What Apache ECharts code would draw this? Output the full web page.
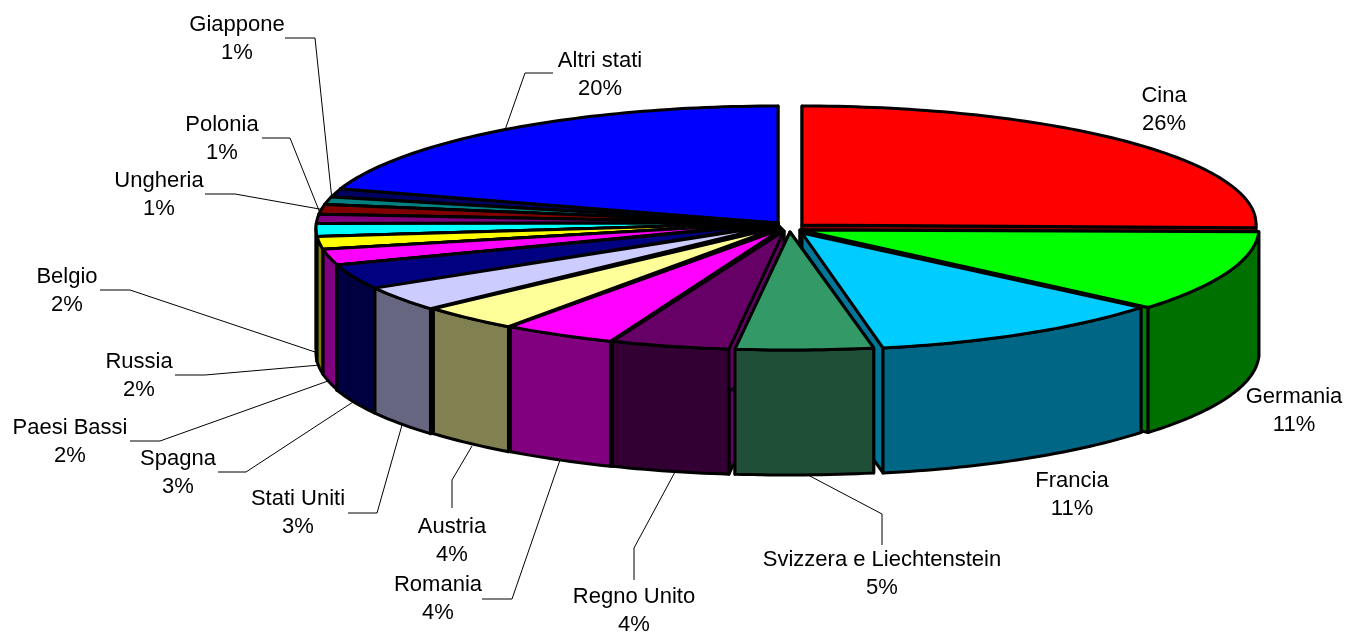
<!DOCTYPE html>
<html>
<head>
<meta charset="utf-8">
<title>Torta 3D</title>
<style>
    html, body { margin: 0; padding: 0; background: #fff; }
    #main { width: 1345px; height: 632px; }
</style>
<script src="https://cdn.jsdelivr.net/npm/echarts@6/dist/echarts.min.js"></script>
</head>
<body>
<div id="main"></div>
<script>
// data (slice sizes in percent, the printed label is rounded)
const categories = ['Cina', 'Germania', 'Francia', 'Svizzera e Liechtenstein', 'Regno Unito', 'Romania', 'Austria', 'Stati Uniti', 'Spagna', 'Paesi Bassi', 'Belgio', 'Russia', 'Ungheria', 'Polonia', 'Giappone', 'Altri stati'];
const values = [25.5, 10.8, 10.8, 4.8, 4.15, 3.95, 3.5, 3.3, 3.3, 2.1, 1.7, 1.7, 1.2, 1.3, 1.0, 19.8];
const percentLabels = ['26%', '11%', '11%', '5%', '4%', '4%', '4%', '3%', '3%', '2%', '2%', '2%', '1%', '1%', '1%', '20%'];

// colours
const topColors = ['#ff0000', '#00ff00', '#00ccff', '#339966', '#660066', '#ff00ff', '#ffff99', '#ccccff', '#000080', '#ff00ff', '#ffff00', '#00ffff', '#800080', '#800000', '#008080', '#0000ff'];
const wallColors = ['#800000', '#007000', '#006685', '#1f4f36', '#330033', '#800080', '#808050', '#666680', '#000040', '#800080', '#808000', '#008080', '#400040', '#400000', '#004040', '#000080'];
const cutColors = ['#800000', '#008000', '#007799', '#1f4f36', '#660066', '#800080', '#808050', '#333340', '#000040', '#800080', '#808000', '#008080', '#400040', '#400000', '#004040', '#000060'];

// pie geometry
const cx = 778, depth = 125;
const sliceShiftX = [24, 22, 24, 12, 6, 4, 2, -1, -1, 0, 0, 0, 0, 0, 0, 0];
const sliceRx = [454, 459, 447, 462, 462, 462, 462, 462, 462, 462, 462, 462, 462, 462, 462, 462];
const sliceEy = [224, 228, 228, 228, 228, 228, 228, 228, 228, 228, 228, 228, 228, 228, 228, 228];
const sliceRy = [118, 122, 122, 122, 122, 122, 122, 122, 122, 122, 122, 122, 122, 122, 122, 122];
const tipY = [225, 230, 233, 232, 231, 229, 227, 225, 224, 223, 223, 223, 223, 223, 223, 223];

// label centres and leader lines
const labelPos = [[1164, 110], [1294, 411], [1072, 495], [882, 574], [634, 611], [438, 599], [452, 541], [298, 513], [178, 473], [70, 442], [67, 291], [139, 376], [159, 195], [222, 139], [237, 39], [600, 75]];
const leaders = [null, null, null,
    [[882, 545], [882, 514], [808, 475]],
    [[634, 580], [634, 548], [675, 472]],
    [[482, 599], [512, 599], [560, 460]],
    [[452, 508], [452, 480], [472, 446]],
    [[348, 513], [377, 513], [402, 425]],
    [[218, 472], [246, 472], [353, 402]],
    [[130, 441], [160, 441], [328, 381]],
    [[100, 290], [130, 290], [318, 353]],
    [[175, 375], [205, 375], [320, 365]],
    [[205, 194], [235, 194], [325, 210]],
    [[262, 138], [290, 138], [322, 218]],
    [[285, 38], [315, 38], [332, 200]],
    [[553, 73], [525, 73], [505, 130]]];

const lastIndex = values.length - 1;
const toAngle = p => p / 100 * 2 * Math.PI;
const startAngles = [];
values.reduce((sum, v, i) => { startAngles[i] = toAngle(sum); return sum + v; }, 0);
// the last slice closes the circle, what is left before it shows as a dark wedge
const wedgeStart = startAngles[lastIndex];
startAngles[lastIndex] = toAngle(100 - values[lastIndex]);

function rimPoint(i, a, dy) {
    return [cx + sliceShiftX[i] + sliceRx[i] * Math.sin(a), sliceEy[i] - sliceRy[i] * Math.cos(a) + (dy || 0)];
}

function renderSlice(params, api) {
    const i = params.dataIndex;
    const a0 = startAngles[i];
    const a1 = a0 + toAngle(api.value(0));
    const tip = [cx + sliceShiftX[i], tipY[i]];
    const mid = (a0 + a1) / 2;
    // back slices are painted first
    const base = Math.round((1 - Math.cos(mid)) * 1000);
    const line = { stroke: '#000', lineWidth: 3, lineJoin: 'round' };
    const children = [];

    function cutFace(a) {
        const p = rimPoint(i, a), q = rimPoint(i, a, depth);
        children.push({
            type: 'polygon', z2: base,
            shape: { points: [tip, p, q, [tip[0], tip[1] + depth]] },
            style: Object.assign({ fill: cutColors[i] }, line)
        });
    }
    cutFace(a0);
    cutFace(a1);

    if (i === lastIndex) {
        children.push({
            type: 'polygon', z2: base,
            shape: { points: [tip, rimPoint(i, wedgeStart), rimPoint(i, a0)] },
            style: Object.assign({ fill: cutColors[i] }, line)
        });
    }

    // outer wall, only the part facing us
    const w0 = Math.max(a0, Math.PI / 2), w1 = Math.min(a1, Math.PI * 1.5);
    if (w1 > w0) {
        const n = Math.max(2, Math.ceil((w1 - w0) / 0.02));
        const up = [], down = [];
        for (let k = 0; k <= n; k++) {
            const a = w0 + (w1 - w0) * k / n;
            up.push(rimPoint(i, a));
            down.unshift(rimPoint(i, a, depth));
        }
        children.push({
            type: 'polygon', z2: base + 1,
            shape: { points: up.concat(down) },
            style: Object.assign({ fill: wallColors[i] }, line)
        });
    }

    // top face
    const n = Math.max(2, Math.ceil((a1 - a0) / 0.02));
    const pts = [tip];
    for (let k = 0; k <= n; k++) {
        pts.push(rimPoint(i, a0 + (a1 - a0) * k / n));
    }
    children.push({
        type: 'polygon', z2: base + 2,
        shape: { points: pts },
        style: Object.assign({ fill: topColors[i] }, line)
    });
    return { type: 'group', children: children };
}

function renderLabel(params) {
    const i = params.dataIndex;
    const children = [{
        type: 'text',
        style: {
            text: categories[i] + '\n' + percentLabels[i],
            x: labelPos[i][0], y: labelPos[i][1],
            align: 'center', verticalAlign: 'middle',
            font: '22px "Liberation Sans", Arial, sans-serif',
            lineHeight: 28, fill: '#000'
        }
    }];
    if (leaders[i]) {
        children.unshift({
            type: 'polyline',
            shape: { points: leaders[i] },
            style: { fill: 'none', stroke: '#000', lineWidth: 1 }
        });
    }
    return { type: 'group', children: children };
}

const chart = echarts.init(document.getElementById('main'), null, { renderer: 'canvas' });
chart.setOption({
    backgroundColor: '#fff',
    animation: false,
    series: [
        { type: 'custom', coordinateSystem: 'none', z: 1, silent: true, renderItem: renderLabel, data: values.map(v => [v]) },
        { type: 'custom', coordinateSystem: 'none', z: 2, silent: true, renderItem: renderSlice, data: values.map(v => [v]) }
    ]
});
</script>
</body>
</html>
